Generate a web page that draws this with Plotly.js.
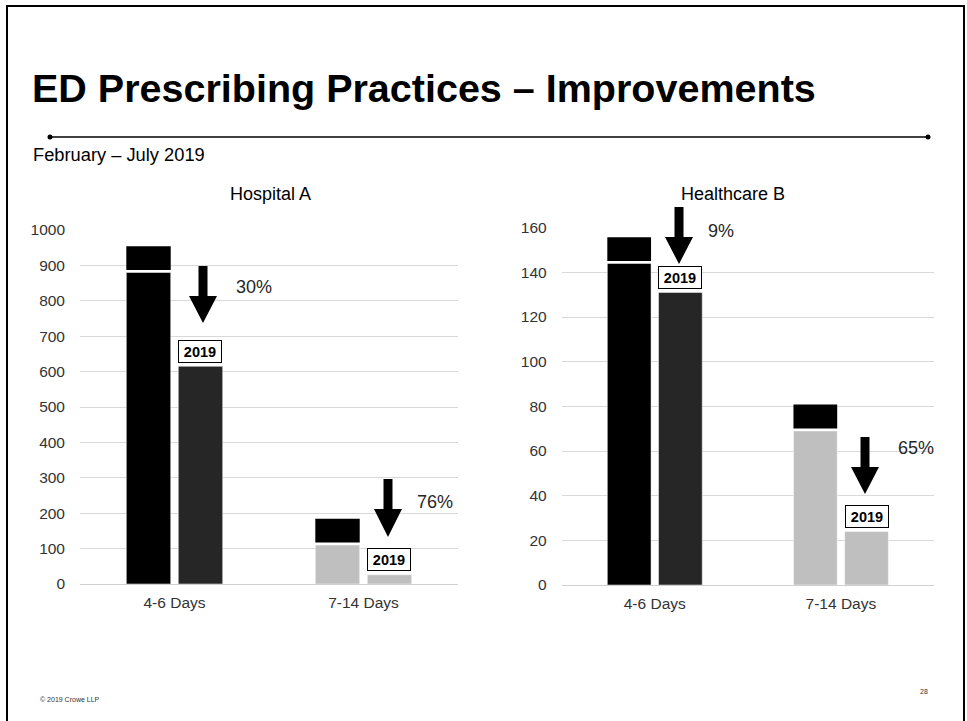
<!DOCTYPE html>
<html>
<head>
<meta charset="utf-8">
<script src="https://cdn.plot.ly/plotly-3.0.1.min.js"></script>
<style>html,body{margin:0;padding:0;background:#fff;}#chart{width:967px;height:721px;}</style>
</head>
<body>
<div id="chart"></div>
<script>
// ---- data ----
const categories = ["4-6 Days", "7-14 Days"];
const hospitalA_2018 = [880, 110];
const hospitalA_2019 = [615, 26];
const healthcareB_2018 = [144, 69];
const healthcareB_2019 = [131, 24];
const reductionA = ["30%", "76%"];
const reductionB = ["9%", "65%"];
const yTicksA = [0, 100, 200, 300, 400, 500, 600, 700, 800, 900, 1000];
const yTicksB = [0, 20, 40, 60, 80, 100, 120, 140, 160];

// ---- styling ----
const W = 967, H = 721;
const FONT = "Arial, 'Liberation Sans', sans-serif";
const col2018 = ["#000000", "#bfbfbf"];
const col2019 = ["#262626", "#bfbfbf"];
const px = x => x / W;
const py = y => 1 - y / H;

function barTrace(vals, colors, offset, xa, ya, name) {
  return {
    type: "bar", x: categories, y: vals, name: name,
    xaxis: xa, yaxis: ya,
    offset: offset, width: 0.235,
    marker: {color: colors, line: {color: "#ffffff", width: 0.5}},
    hoverinfo: "x+y", showlegend: false, cliponaxis: false
  };
}

const data = [
  barTrace(hospitalA_2018, col2018, -0.255, "x", "y", "2018"),
  barTrace(hospitalA_2019, col2019, 0.02, "x", "y", "2019"),
  barTrace(healthcareB_2018, col2018, -0.255, "x2", "y2", "2018"),
  barTrace(healthcareB_2019, col2019, 0.02, "x2", "y2", "2019")
];

const shapes = [];
const annotations = [];

// slide border
shapes.push({type: "rect", xref: "paper", yref: "paper", x0: px(7), x1: px(964), y0: py(730), y1: py(6),
  line: {color: "#000", width: 2}, fillcolor: "rgba(0,0,0,0)", layer: "below"});
// header rule with dots
shapes.push({type: "line", xref: "paper", yref: "paper", x0: px(50), x1: px(928), y0: py(137), y1: py(137),
  line: {color: "#000", width: 1.5}});
[50, 928].forEach(cx => shapes.push({type: "circle", xref: "paper", yref: "paper",
  x0: px(cx - 2.5), x1: px(cx + 2.5), y0: py(137 + 2.5), y1: py(137 - 2.5),
  fillcolor: "#000", line: {color: "#000", width: 0}}));

// black label boxes sitting on top of the first-period bars
function caps(vals, xr, yr) {
  vals.forEach((v, i) => shapes.push({type: "rect", xref: xr, yref: yr,
    x0: i - 0.255, x1: i - 0.02, ysizemode: "pixel", yanchor: v, y0: 2.5, y1: 26.3,
    fillcolor: "#000", line: {color: "#000", width: 0}}));
}
caps(hospitalA_2018, "x", "y");
caps(healthcareB_2018, "x2", "y2");

// "2019" boxes
function boxes(vals, xr, yr) {
  vals.forEach((v, i) => annotations.push({xref: xr, yref: yr, x: i + 0.1375, y: v,
    xanchor: "center", yanchor: "bottom", yshift: 3.5, showarrow: false,
    text: "<b>2019</b>", font: {family: FONT, size: 14.5, color: "#000"},
    bgcolor: "#fff", bordercolor: "#000", borderwidth: 1, borderpad: 1, width: 40, height: 19}));
}
boxes(hospitalA_2019, "x", "y");
boxes(healthcareB_2019, "x2", "y2");

// down arrows (pixel layout)
function arrow(cx, top, headTop, tip) {
  const s = 4.5, h = 14;
  const p = [[cx - s, top], [cx + s, top], [cx + s, headTop], [cx + h, headTop], [cx, tip],
             [cx - h, headTop], [cx - s, headTop]];
  const path = "M" + p.map(q => px(q[0]).toFixed(5) + "," + py(q[1]).toFixed(5)).join(" L") + " Z";
  shapes.push({type: "path", xref: "paper", yref: "paper", path: path, fillcolor: "#000", line: {color: "#000", width: 0}});
}
arrow(203, 266, 296, 323);
arrow(388, 479, 509, 537);
arrow(679, 207, 237, 264);
arrow(865, 437, 467, 494);

// percentage labels
const pctPos = [[234, 287], [415, 502], [706, 231], [896, 448]];
reductionA.concat(reductionB).forEach((t, i) => annotations.push({xref: "paper", yref: "paper",
  x: px(pctPos[i][0]), y: py(pctPos[i][1]), xanchor: "left", yanchor: "middle", showarrow: false,
  text: t, font: {family: FONT, size: 18, color: "#262626"}}));

// texts
annotations.push({xref: "paper", yref: "paper", x: px(30), y: py(88), xanchor: "left", yanchor: "middle",
  showarrow: false, text: "<b>ED Prescribing Practices – Improvements</b>", font: {family: FONT, size: 39.5, color: "#000"}});
annotations.push({xref: "paper", yref: "paper", x: px(31), y: py(154), xanchor: "left", yanchor: "middle",
  showarrow: false, text: "February – July 2019", font: {family: FONT, size: 18.3, color: "#000"}});
annotations.push({xref: "paper", yref: "paper", x: px(270.5), y: py(193.5), xanchor: "center", yanchor: "middle",
  showarrow: false, text: "Hospital A", font: {family: FONT, size: 18, color: "#000"}});
annotations.push({xref: "paper", yref: "paper", x: px(733), y: py(193.5), xanchor: "center", yanchor: "middle",
  showarrow: false, text: "Healthcare B", font: {family: FONT, size: 18, color: "#000"}});
annotations.push({xref: "paper", yref: "paper", x: px(38), y: py(699), xanchor: "left", yanchor: "middle",
  showarrow: false, text: "© 2019 Crowe LLP", font: {family: FONT, size: 7, color: "#333"}});
annotations.push({xref: "paper", yref: "paper", x: px(924), y: py(691), xanchor: "center", yanchor: "middle",
  showarrow: false, text: "28", font: {family: FONT, size: 7, color: "#333"}});

const tickFont = {family: FONT, size: 15.5, color: "#333"};
function xAxis(domain, anchor) {
  return {domain: domain, anchor: anchor, type: "category", range: [-0.5, 1.5], showgrid: false,
    showline: false, zeroline: false, ticks: "", tickfont: tickFont, ticklabelstandoff: 7, fixedrange: true};
}
function yAxis(domain, anchor, range, ticks) {
  return {domain: domain, anchor: anchor, range: range, tickvals: ticks, ticktext: ticks.map(String),
    showgrid: true, gridcolor: "#d9d9d9", gridwidth: 1, zeroline: true, zerolinecolor: "#d0d0d0", zerolinewidth: 1,
    showline: false, ticks: "", tickfont: tickFont, ticklabelstandoff: 14, fixedrange: true};
}

const layout = {
  width: W, height: H,
  margin: {l: 0, r: 0, t: 0, b: 0, pad: 0},
  paper_bgcolor: "#fff", plot_bgcolor: "rgba(0,0,0,0)",
  barmode: "overlay",
  font: {family: FONT, color: "#000"},
  showlegend: false,
  xaxis: xAxis([px(80), px(458)], "y"),
  yaxis: yAxis([py(584), py(230)], "x", [0, 1000], yTicksA),
  xaxis2: xAxis([px(561.7), px(934)], "y2"),
  yaxis2: yAxis([py(585), py(227.7)], "x2", [0, 160], yTicksB),
  shapes: shapes,
  annotations: annotations
};

Plotly.newPlot("chart", data, layout, {displayModeBar: false, staticPlot: true});
</script>
</body>
</html>
